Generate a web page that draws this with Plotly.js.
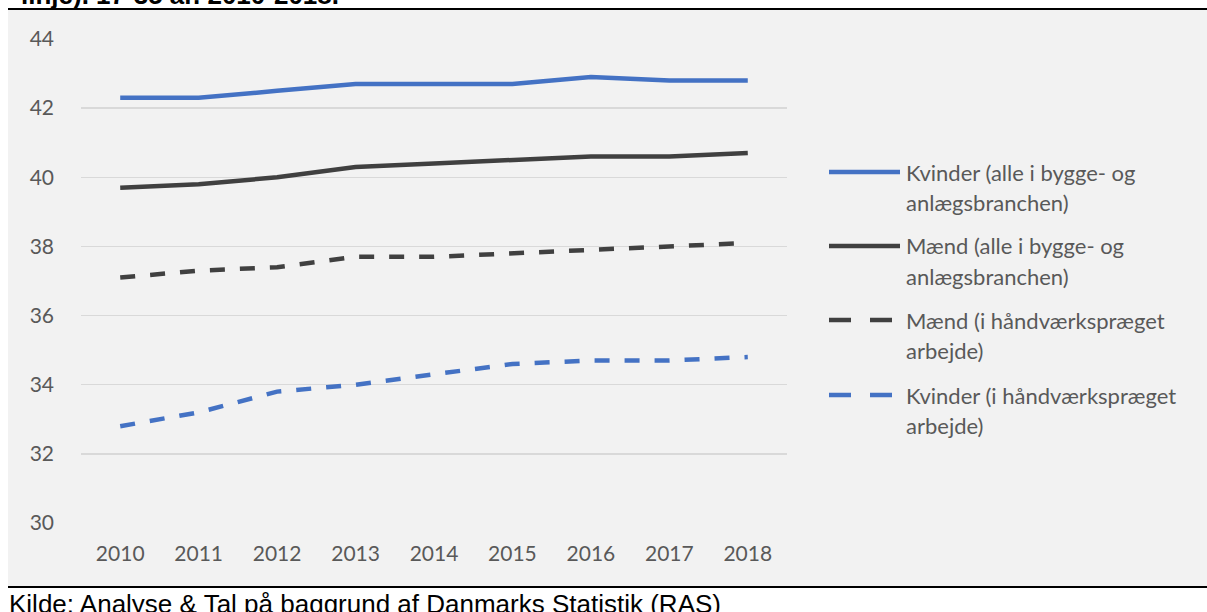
<!DOCTYPE html>
<html>
<head>
<meta charset="utf-8">
<script src="https://cdn.plot.ly/plotly-3.0.1.min.js"></script>
<style>
  html, body { margin: 0; padding: 0; background: #ffffff; overflow: hidden; }
  #chart { width: 1207px; height: 612px; }
</style>
</head>
<body>
<div id="chart"></div>
<script>
// Years on the category axis
const years = ['2010', '2011', '2012', '2013', '2014', '2015', '2016', '2017', '2018'];

// Average age, 17-35 year olds
const kvinderAlle      = [42.3, 42.3, 42.5, 42.7, 42.7, 42.7, 42.9, 42.8, 42.8];
const maendAlle        = [39.7, 39.8, 40.0, 40.3, 40.4, 40.5, 40.6, 40.6, 40.7];
const maendHaandvaerk  = [37.1, 37.3, 37.4, 37.7, 37.7, 37.8, 37.9, 38.0, 38.1];
const kvinderHaandvaerk= [32.8, 33.2, 33.8, 34.0, 34.3, 34.6, 34.7, 34.7, 34.8];

// Series names (line breaks as shown in the legend)
const seriesNames = [
  'Kvinder (alle i bygge- og<br>anlægsbranchen)',
  'Mænd (alle i bygge- og<br>anlægsbranchen)',
  'Mænd (i håndværkspræget<br>arbejde)',
  'Kvinder (i håndværkspræget<br>arbejde)'
];

// Y axis ticks
const yTicks = [30, 32, 34, 36, 38, 40, 42, 44];

const titleTail = 'linje). 17-35 år. 2010-2018.';
const sourceText = 'Kilde: Analyse &amp; Tal på baggrund af Danmarks Statistik (RAS)';

const BLUE = '#4472C4';
const DARK = '#404040';
const TEXT = '#595959';
const FONT = 'Lato, "Open Sans", sans-serif';
const ARIAL = '"Liberation Sans", Arial, sans-serif';

const W = 1207, H = 612;
const M = { l: 81, r: 420, t: 39, b: 89 };
const PW = W - M.l - M.r, PH = H - M.t - M.b;
// pixel -> paper helpers for the decorations
const px = x => (x - M.l) / PW;
const py = y => (H - M.b - y) / PH;

const seriesValues = [kvinderAlle, maendAlle, maendHaandvaerk, kvinderHaandvaerk];
const seriesColors = [BLUE, DARK, DARK, BLUE];
const seriesDash   = ['solid', 'solid', '15px,15px', '15px,15px'];

const traces = seriesValues.map((vals, i) => ({
  type: 'scatter',
  mode: 'lines',
  x: years,
  y: vals,
  name: seriesNames[i],
  line: { color: seriesColors[i], width: 4.5, dash: seriesDash[i] },
  showlegend: false,
  hoverinfo: 'skip'
}));

const shapes = [
  // grey chart panel
  { type: 'rect', xref: 'paper', yref: 'paper', layer: 'below',
    x0: px(8), x1: px(1207), y0: py(10), y1: py(586),
    fillcolor: '#f2f2f2', line: { width: 0 } },
  // rules above and below the panel
  { type: 'line', xref: 'paper', yref: 'paper', x0: px(8), x1: px(1207), y0: py(9), y1: py(9),
    line: { color: '#000000', width: 2 } },
  { type: 'line', xref: 'paper', yref: 'paper', x0: px(8), x1: px(1207), y0: py(587), y1: py(587),
    line: { color: '#000000', width: 2 } }
];

const annotations = [
  { xref: 'paper', yref: 'paper', x: px(19), y: py(12), xanchor: 'left', yanchor: 'bottom',
    text: '<b>' + titleTail + '</b>', showarrow: false,
    font: { family: ARIAL, size: 26, color: '#000000' } },
  { xref: 'paper', yref: 'paper', x: px(7), y: py(587), xanchor: 'left', yanchor: 'top',
    text: sourceText, showarrow: false,
    font: { family: ARIAL, size: 26, color: '#000000' } }
];

// Legend: symbol + wrapped label per series
const legendTop = [172, 246, 320, 395];
const legendSymDash = ['solid', 'solid', '22px,19px', '22px,19px'];
seriesNames.forEach((name, i) => {
  const y0 = legendTop[i];
  shapes.push({ type: 'line', xref: 'paper', yref: 'paper',
    x0: px(829), x1: px(900), y0: py(y0), y1: py(y0),
    line: { color: seriesColors[i], width: 4.5, dash: legendSymDash[i] } });
  name.split('<br>').forEach((line, j) => {
    annotations.push({ xref: 'paper', yref: 'paper', x: px(904), y: py(y0 + j * 30),
      xanchor: 'left', yanchor: 'middle', text: line, showarrow: false,
      font: { family: FONT, size: 22, color: TEXT } });
  });
});

const layout = {
  width: W, height: H,
  margin: M,
  paper_bgcolor: 'rgba(0,0,0,0)',
  plot_bgcolor: 'rgba(0,0,0,0)',
  font: { family: FONT, size: 21, color: TEXT },
  showlegend: false,
  xaxis: {
    type: 'category',
    range: [-0.5, years.length - 0.5],
    showgrid: false, zeroline: false, showline: false,
    ticks: '', ticklabelstandoff: 16,
    tickfont: { family: FONT, size: 21, color: TEXT }
  },
  yaxis: {
    range: [30, 44],
    tickvals: yTicks, ticktext: yTicks.map(String),
    showgrid: true, gridcolor: '#d9d9d9', gridwidth: 1.5,
    zeroline: false, showline: false,
    ticks: '', ticklabelstandoff: 26,
    tickfont: { family: FONT, size: 21, color: TEXT }
  },
  shapes: shapes,
  annotations: annotations
};

Plotly.newPlot('chart', traces, layout, { staticPlot: true, displayModeBar: false });
</script>
</body>
</html>
